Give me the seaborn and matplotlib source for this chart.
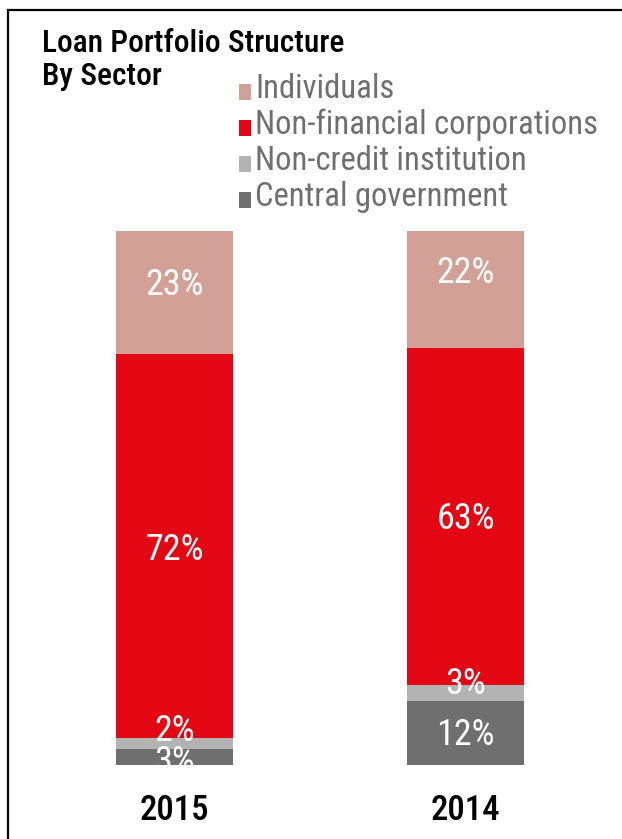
import matplotlib
matplotlib.use("Agg")
import matplotlib.pyplot as plt
from matplotlib.patches import Patch, Rectangle
from matplotlib.legend_handler import HandlerPatch
import seaborn as sns
import pandas as pd

# Data
years = ["2015", "2014"]
sectors = ["Central government", "Non-credit institution",
           "Non-financial corporations", "Individuals"]  # bottom -> top
central_government = [3, 12]
non_credit_institution = [2, 3]
non_financial_corporations = [72, 63]
individuals = [23, 22]

colors = {
    "Individuals": "#d2a096",
    "Non-financial corporations": "#e30613",
    "Non-credit institution": "#b3b3b3",
    "Central government": "#706f6f",
}

# label nudges in pixels (positive = up), keyed by (year, sector)
nudges = {
    ("2015", "Individuals"): 11, ("2014", "Individuals"): 21,
    ("2015", "Non-credit institution"): 17, ("2014", "Non-credit institution"): 13,
    ("2014", "Non-financial corporations"): 2, ("2014", "Central government"): 2,
    ("2015", "Central government"): -1,
}

series = {
    "Central government": central_government,
    "Non-credit institution": non_credit_institution,
    "Non-financial corporations": non_financial_corporations,
    "Individuals": individuals,
}
rows = []
for s in sectors:
    for y, v in zip(years, series[s]):
        rows.append({"year": y, "sector": s, "value": v})
df = pd.DataFrame(rows)
df["sector"] = pd.Categorical(df["sector"], categories=sectors, ordered=True)
df = df.sort_values(["year", "sector"])
df["top"] = df.groupby("year")["value"].cumsum()
df["bottom"] = df["top"] - df["value"]

sns.set_theme(style="white")
FONT = ["Roboto Condensed", "DejaVu Sans"]
plt.rcParams["font.family"] = FONT

W, H = 622, 839
fig = plt.figure(figsize=(W / 100, H / 100), dpi=100)
fig.patch.set_facecolor("white")

ax_bottom_px, ax_top_px = 765, 231
ax = fig.add_axes([29 / W, (H - ax_bottom_px) / H, 582 / W,
                   (ax_bottom_px - ax_top_px) / H])

# stacked bars: draw cumulative totals from the top segment down
for s in reversed(sectors):
    sub = df[df["sector"] == s]
    sns.barplot(data=sub, x="year", y="top", order=years, color=colors[s],
                saturation=1, width=0.4, errorbar=None, linewidth=0, ax=ax)

ax.set_xlim(-0.5, 1.5)
ax.set_ylim(0, 100)
for sp in ax.spines.values():
    sp.set_visible(False)
ax.set_yticks([])
ax.set_xlabel("")
ax.set_ylabel("")
ax.tick_params(axis="x", length=0, pad=21, labelsize=25, labelcolor="black")
for t in ax.get_xticklabels():
    t.set_fontfamily(FONT)
    t.set_fontweight(500)

# value labels
for i, y in enumerate(years):
    for s in sectors:
        r = df[(df["year"] == y) & (df["sector"] == s)].iloc[0]
        dy = nudges.get((y, s), 0) * 72 / 100
        ax.annotate(f"{int(r['value'])}%", xy=(i, r["bottom"] + r["value"] / 2),
                    xytext=(0, dy), textcoords="offset points",
                    ha="center", va="center_baseline", color="white", fontsize=26,
                    family=FONT)

# title, one line at a time
for line, base_px in (("Loan Portfolio Structure", 52), ("By Sector", 85)):
    fig.text(42 / W, 1 - base_px / H, line, ha="left", va="baseline",
             fontsize=22.7, color="black", fontweight=500, family=FONT)


# legend squares sit low, near the text baseline
def low_square(legend, orig_handle, xdescent, ydescent, width, height, fontsize):
    return Rectangle((-xdescent, -ydescent - 4), width, height)


handles = [Patch(facecolor=colors[s], edgecolor="none") for s in reversed(sectors)]
leg = fig.legend(handles, list(reversed(sectors)), loc="upper left",
                 bbox_to_anchor=(239 / W, 1 - 73 / H), frameon=False,
                 handlelength=0.37, handleheight=0.37,
                 handletextpad=0.12, labelspacing=0.12, borderpad=0,
                 borderaxespad=0, prop={"family": FONT, "size": 23.5},
                 handler_map={Patch: HandlerPatch(patch_func=low_square)})
for t in leg.get_texts():
    t.set_color("#6f6f6f")

# outer frame
fig.add_artist(Rectangle((8 / W, -0.1), 2, 1.1 - 10 / H, transform=fig.transFigure,
                         fill=False, edgecolor="black", linewidth=1.6))

fig.savefig("out.png", dpi=100, facecolor="white")
